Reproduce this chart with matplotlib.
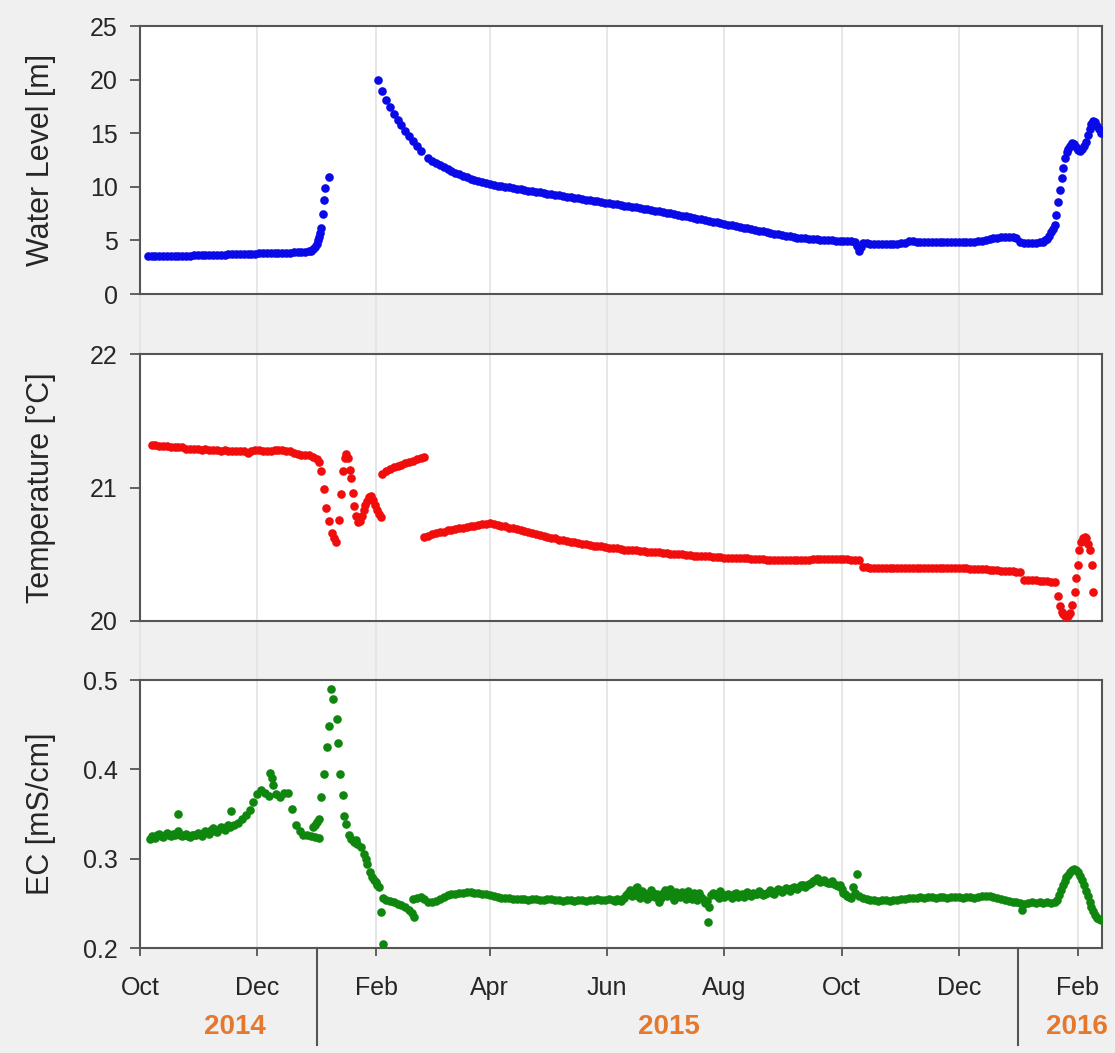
import numpy as np
import matplotlib
matplotlib.use("Agg")
import matplotlib.pyplot as plt
import matplotlib.dates as mdates
import matplotlib.transforms as mtransforms
from matplotlib.lines import Line2D
from matplotlib.ticker import FormatStrFormatter

plt.rcParams['font.family'] = ['Liberation Sans', 'DejaVu Sans']

# ---------------------------------------------------------------------------
# Logger records; times are days since the start of the record (1 Oct 2014)
# ---------------------------------------------------------------------------
START = np.datetime64('2014-10-01T00:00')

# Water level [m]
wl_days = np.concatenate([
    np.arange(4, 89, 2),
    [89, 90, 91, 92, 92.6, 93.2, 93.7, 94.1, 95.0, 95.5, 96.3, 98.4],
    np.arange(124, 147, 2),
    np.arange(150, 371, 2),
    [372, 373, 374, 375, 376],
    np.arange(378, 471, 2),
    [471, 472, 473, 474, 475, 476, 476.6, 477.6, 478.7, 479.6, 480.3, 481.3,
     482.2, 483, 484, 485, 486, 487, 488, 489, 490, 491, 492, 493, 494, 495,
     496, 497, 498, 499, 500],
])
wl_vals = np.array([
    # Oct - Dec 2014
    3.50, 3.51, 3.52, 3.52, 3.53, 3.54, 3.55, 3.55, 3.56, 3.57,
    3.58, 3.59, 3.60, 3.61, 3.62, 3.63, 3.64, 3.65, 3.66, 3.67,
    3.68, 3.69, 3.70, 3.71, 3.72, 3.73, 3.75, 3.76, 3.77, 3.78,
    3.79, 3.80, 3.81, 3.82, 3.83, 3.84, 3.85, 3.86, 3.88, 3.90,
    3.92, 3.95, 4.00,
    # early January rise
    4.05, 4.20, 4.40, 4.70, 5.00, 5.35, 5.70, 6.15, 7.45, 8.75, 9.90, 10.95,
    # February 2015
    20.0, 18.95, 18.10, 17.40, 16.80, 16.25, 15.75, 15.25, 14.75, 14.30,
    13.85, 13.35,
    # March - October 2015
    12.65, 12.43, 12.22, 12.02, 11.83, 11.65, 11.48, 11.32, 11.17, 11.03,
    10.90, 10.77, 10.65, 10.54, 10.43, 10.34, 10.26, 10.19, 10.12, 10.06,
    10.00, 9.94, 9.88, 9.82, 9.76, 9.70, 9.65, 9.59, 9.53, 9.48,
    9.42, 9.37, 9.31, 9.26, 9.20, 9.15, 9.09, 9.04, 8.98, 8.93,
    8.87, 8.81, 8.76, 8.70, 8.65, 8.59, 8.53, 8.48, 8.42, 8.36,
    8.30, 8.25, 8.19, 8.13, 8.07, 8.01, 7.95, 7.89, 7.83, 7.77,
    7.71, 7.65, 7.58, 7.52, 7.45, 7.39, 7.32, 7.25, 7.18, 7.11,
    7.04, 6.97, 6.90, 6.83, 6.76, 6.69, 6.62, 6.55, 6.48, 6.41,
    6.34, 6.27, 6.20, 6.13, 6.06, 5.99, 5.92, 5.85, 5.78, 5.71,
    5.64, 5.57, 5.50, 5.43, 5.37, 5.32, 5.27, 5.23, 5.19, 5.16,
    5.13, 5.10, 5.07, 5.04, 5.02, 5.00, 4.98, 4.96, 4.94, 4.92,
    4.90,
    # October dip
    4.85, 4.50, 4.00, 4.40, 4.72,
    # November 2015 - mid January 2016
    4.72, 4.71, 4.71, 4.70, 4.70, 4.70, 4.70, 4.71, 4.71, 4.72, 4.72,
    4.90, 4.90, 4.89, 4.88, 4.87, 4.86, 4.85, 4.85, 4.84, 4.84,
    4.83, 4.83, 4.82, 4.82, 4.82, 4.83, 4.84, 4.86, 4.90,
    4.95, 5.02, 5.10, 5.18, 5.24, 5.28, 5.30, 5.30, 5.28, 5.25,
    4.85, 4.80, 4.80, 4.80, 4.80, 4.82, 4.85,
    # late January - February 2016
    5.00, 5.15, 5.40, 5.75, 6.10, 6.45, 7.40, 8.60, 9.70, 10.80, 11.80,
    12.70, 13.20, 13.50, 13.80, 14.05, 14.00, 13.70, 13.45, 13.30, 13.50,
    13.85, 14.20, 14.80, 15.40, 15.85, 16.10, 16.00, 15.70, 15.35, 15.00,
])

# Temperature [°C]
tc_days = np.concatenate([
    np.arange(6, 93, 2),
    [93.2, 94.1, 95.5, 96.7, 98.4, 99.8, 101.0, 101.9, 103.6, 104.5, 105.4,
     106.4, 107.3, 108.1, 109.1, 110.0, 110.7, 111.5, 112.4, 113.3, 114.3,
     115.3, 116.3, 117.3, 118.3, 119.3, 120.3, 121.3, 122.3, 123.3, 124.3,
     125.3],
    np.arange(126, 149, 2),
    np.arange(148, 375, 2),
    np.arange(376, 459, 2),
    np.arange(460, 477, 2),
    [477.6, 478.5, 479.5, 480.3, 481, 482, 483, 484, 485, 486.3, 487.1,
     488.0, 488.8, 489.7, 490.6, 491.5, 492.4, 493.3, 494.2, 495.1, 495.9],
])
tc_vals = np.array([
    # Oct - Dec 2014
    21.32, 21.32, 21.31, 21.31, 21.31, 21.30, 21.30, 21.30, 21.30, 21.29,
    21.29, 21.29, 21.29, 21.28, 21.29, 21.28, 21.28, 21.28, 21.27, 21.28,
    21.27, 21.27, 21.27, 21.27, 21.27, 21.26, 21.27, 21.28, 21.28, 21.27,
    21.27, 21.27, 21.28, 21.28, 21.28, 21.27, 21.27, 21.26, 21.25, 21.24,
    21.24, 21.24, 21.23, 21.21,
    # January 2015 oscillation
    21.19, 21.12, 20.99, 20.85, 20.75, 20.66, 20.62, 20.59, 20.76, 20.95,
    21.12, 21.22, 21.25, 21.22, 21.13, 21.07, 20.96, 20.86, 20.79, 20.74,
    20.75, 20.79, 20.83, 20.87, 20.90, 20.93, 20.94, 20.91, 20.87, 20.83,
    20.80, 20.78,
    # February 2015 (upper run)
    21.10, 21.12, 21.14, 21.15, 21.16, 21.17, 21.18, 21.19, 21.20, 21.21,
    21.22, 21.23,
    # late February - mid October 2015
    20.630, 20.640, 20.650, 20.660, 20.665, 20.670, 20.680, 20.685, 20.690, 20.695,
    20.700, 20.705, 20.710, 20.715, 20.720, 20.725, 20.730, 20.735, 20.730, 20.720,
    20.715, 20.710, 20.700, 20.695, 20.690, 20.680, 20.675, 20.670, 20.660, 20.655,
    20.645, 20.640, 20.630, 20.625, 20.620, 20.610, 20.605, 20.600, 20.595, 20.590,
    20.585, 20.580, 20.575, 20.570, 20.565, 20.560, 20.560, 20.555, 20.550, 20.545,
    20.545, 20.540, 20.535, 20.535, 20.530, 20.530, 20.525, 20.525, 20.520, 20.520,
    20.515, 20.515, 20.510, 20.510, 20.505, 20.505, 20.500, 20.500, 20.495, 20.495,
    20.490, 20.490, 20.490, 20.485, 20.485, 20.480, 20.480, 20.480, 20.475, 20.475,
    20.475, 20.470, 20.470, 20.470, 20.470, 20.465, 20.465, 20.465, 20.465, 20.460,
    20.460, 20.460, 20.460, 20.460, 20.460, 20.460, 20.460, 20.460, 20.460, 20.460,
    20.460, 20.465, 20.465, 20.465, 20.465, 20.465, 20.465, 20.465, 20.465, 20.465,
    20.465, 20.460, 20.460, 20.460,
    # mid October - December 2015
    20.405, 20.405, 20.400, 20.400, 20.400, 20.400, 20.400, 20.400, 20.400, 20.400,
    20.400, 20.400, 20.400, 20.400, 20.400, 20.400, 20.400, 20.400, 20.398, 20.398,
    20.398, 20.398, 20.396, 20.396, 20.395, 20.395, 20.395, 20.394, 20.393, 20.392,
    20.390, 20.388, 20.386, 20.384, 20.382, 20.380, 20.378, 20.376, 20.374, 20.372,
    20.370, 20.368,
    # January 2016
    20.310, 20.310, 20.305, 20.305, 20.300, 20.300, 20.300, 20.295, 20.290,
    # late January - February 2016
    20.19, 20.11, 20.07, 20.05, 20.04, 20.035, 20.04, 20.06, 20.12, 20.22,
    20.32, 20.42, 20.53, 20.59, 20.62, 20.63, 20.62, 20.58, 20.53, 20.42,
    20.22,
])

# Electrical conductivity [mS/cm]
ec_days = np.concatenate([
    np.arange(5, 94, 2),
    np.arange(6, 47, 2),
    [19.6, 47.3, 67.6, 68.5],
    [90, 91, 92, 93, 94.1, 95.5, 97.2, 98.4, 99.3, 100.5, 102.4, 103.1, 104.1,
     105.4, 106.2, 107.1, 108.8, 110, 111.4, 112.2, 113, 114.9, 116.6, 117.5,
     118.3, 119.6, 120.9, 121.8, 122.7, 123.5, 124.4, 125.3, 126.2],
    [126.5, 128, 130, 132, 134, 136, 138, 140, 141.5, 142.5],
    np.arange(142, 245, 2),
    np.arange(246, 371, 2),
    np.arange(247, 370, 2),
    [258.5, 295.7, 371.2, 373.0],
    np.arange(372, 477, 2),
    np.arange(477, 501, 1),
    [458.8],
])
ec_vals = np.array([
    # Oct - Dec 2014
    0.322, 0.324, 0.326, 0.325, 0.327, 0.326, 0.328, 0.329, 0.327, 0.326,
    0.325, 0.327, 0.326, 0.328, 0.329, 0.330, 0.332, 0.331, 0.333, 0.334,
    0.335, 0.336, 0.338, 0.340, 0.344, 0.349, 0.355, 0.363, 0.372, 0.377,
    0.373, 0.370, 0.382, 0.372, 0.369, 0.373, 0.374, 0.356, 0.338, 0.331,
    0.327, 0.326, 0.325, 0.324, 0.323,
    # Oct - Nov 2014, intermediate readings
    0.325, 0.323, 0.328, 0.324, 0.329, 0.325, 0.327, 0.331, 0.325, 0.328,
    0.324, 0.326, 0.329, 0.325, 0.331, 0.328, 0.334, 0.330, 0.336, 0.332,
    0.338,
    # isolated high readings
    0.350, 0.353, 0.396, 0.390,
    # January 2015 pulse
    0.335, 0.338, 0.341, 0.344, 0.369, 0.395, 0.425, 0.449, 0.490, 0.479,
    0.456, 0.430, 0.395, 0.371, 0.348, 0.339, 0.326, 0.322, 0.319, 0.321,
    0.316, 0.313, 0.305, 0.300, 0.294, 0.285, 0.279, 0.276, 0.274, 0.271,
    0.268, 0.240, 0.205,
    # February 2015
    0.256, 0.254, 0.253, 0.251, 0.249, 0.248, 0.246, 0.243, 0.239, 0.235,
    # March - May 2015
    0.255, 0.256, 0.257, 0.255, 0.252, 0.251, 0.253, 0.255, 0.257, 0.259,
    0.260, 0.261, 0.262, 0.262, 0.263, 0.263, 0.262, 0.262, 0.261, 0.260,
    0.259, 0.258, 0.257, 0.256, 0.256, 0.256, 0.255, 0.255, 0.255, 0.255,
    0.254, 0.255, 0.255, 0.254, 0.254, 0.255, 0.255, 0.254, 0.254, 0.253,
    0.254, 0.254, 0.253, 0.254, 0.254, 0.253, 0.254, 0.254, 0.255, 0.254,
    0.254, 0.255,
    # June - October 2015
    0.254, 0.255, 0.253, 0.256, 0.262, 0.258, 0.267, 0.256, 0.262, 0.255,
    0.265, 0.257, 0.252, 0.262, 0.258, 0.266, 0.254, 0.260, 0.263, 0.255,
    0.258, 0.262, 0.254, 0.257, 0.250, 0.246, 0.262, 0.258, 0.264, 0.257,
    0.261, 0.256, 0.262, 0.259, 0.257, 0.263, 0.258, 0.260, 0.264, 0.259,
    0.262, 0.265, 0.261, 0.266, 0.263, 0.267, 0.264, 0.268, 0.266, 0.270,
    0.268, 0.272, 0.275, 0.278, 0.274, 0.276, 0.273, 0.275, 0.270, 0.271,
    0.262, 0.258, 0.256,
    # June - October 2015, intermediate readings
    0.253, 0.254, 0.255, 0.259, 0.265, 0.262, 0.258, 0.264, 0.259, 0.257,
    0.262, 0.260, 0.256, 0.265, 0.261, 0.258, 0.263, 0.257, 0.260, 0.264,
    0.255, 0.259, 0.262, 0.255, 0.253, 0.259, 0.260, 0.256, 0.260, 0.259,
    0.258, 0.260, 0.257, 0.261, 0.260, 0.259, 0.262, 0.261, 0.262, 0.260,
    0.263, 0.262, 0.264, 0.265, 0.265, 0.266, 0.267, 0.267, 0.268, 0.270,
    0.271, 0.273, 0.276, 0.277, 0.275, 0.274, 0.273, 0.272, 0.269, 0.266,
    0.260, 0.257,
    # scattered readings
    0.268, 0.229, 0.268, 0.283,
    # mid October 2015 - January 2016
    0.262, 0.258, 0.256, 0.255, 0.254, 0.254, 0.253, 0.254, 0.254, 0.253,
    0.254, 0.254, 0.255, 0.255, 0.256, 0.256, 0.256, 0.257, 0.256, 0.257,
    0.257, 0.256, 0.257, 0.257, 0.256, 0.257, 0.257, 0.257, 0.256, 0.257,
    0.257, 0.256, 0.257, 0.258, 0.258, 0.258, 0.257, 0.256, 0.255, 0.254,
    0.253, 0.252, 0.251, 0.250, 0.249, 0.250, 0.251, 0.250, 0.251, 0.250,
    0.251, 0.250, 0.252,
    # late January - February 2016
    0.254, 0.259, 0.265, 0.270, 0.275, 0.279, 0.282, 0.285, 0.287, 0.288,
    0.287, 0.285, 0.281, 0.276, 0.270, 0.264, 0.258, 0.252, 0.246, 0.241,
    0.237, 0.234, 0.232, 0.231,
    0.242,
])

panels = [
    ("Water Level [m]", wl_days, wl_vals, "#0a0ae8", (0, 25), [0, 5, 10, 15, 20, 25], "%d"),
    ("Temperature [°C]", tc_days, tc_vals, "#f20d0d", (20, 22), [20, 21, 22], "%d"),
    ("EC [mS/cm]", ec_days, ec_vals, "#0f870f", (0.2, 0.5), [0.2, 0.3, 0.4, 0.5], "%.1f"),
]
month_ticks = [2, 4, 6, 8, 10, 12]
year_labels = ["2014", "2015", "2016"]
year_label_days = [49.4, 275.0, 487.5]
year_break_days = [92, 457]
x_end_day = 500.5


def to_dates(days):
    hours = np.round(np.asarray(days, dtype=float) * 24).astype(int)
    return START + hours * np.timedelta64(1, 'h')


BG = "#f0f0f0"
TXT = "#262626"
SPINE = "#555555"
GRID = "#e3e3e3"
W_PX, H_PX = 1115, 1053

fig = plt.figure(figsize=(W_PX / 100, H_PX / 100), dpi=100, facecolor=BG)
boxes = [(26, 294), (354, 621), (680, 948)]
left_px, right_px = 140, 1102

axes = []
for (top, bot) in boxes:
    ax = fig.add_axes([left_px / W_PX, 1 - bot / H_PX,
                       (right_px - left_px) / W_PX, (bot - top) / H_PX])
    axes.append(ax)

x0 = START
x1 = to_dates([x_end_day])[0]
for ax, (label, days, vals, color, ylim, yt, fmt) in zip(axes, panels):
    ax.set_facecolor("white")
    ax.plot(to_dates(days), vals, ls="none", marker="o", ms=6.2, mew=0,
            color=color, zorder=3)
    ax.set_xlim(x0, x1)
    ax.set_ylim(*ylim)
    ax.set_yticks(yt)
    ax.yaxis.set_major_formatter(FormatStrFormatter(fmt))
    ax.xaxis.set_major_locator(mdates.MonthLocator(bymonth=month_ticks))
    ax.xaxis.set_major_formatter(mdates.DateFormatter("%b"))
    ax.grid(axis="x", color=GRID, lw=1.2)
    ax.set_axisbelow(True)
    for sp in ax.spines.values():
        sp.set_color(SPINE)
        sp.set_linewidth(1.5)
    ax.tick_params(axis="y", direction="out", length=7, width=1.3,
                   color=SPINE, pad=9, labelsize=18, labelcolor=TXT)
    ax.set_ylabel(label, fontsize=22, color=TXT)
    ax.yaxis.set_label_coords(-0.087, 0.5)

for ax in axes[:2]:
    ax.tick_params(axis="x", length=0, labelbottom=False)
axes[2].tick_params(axis="x", direction="out", length=6, width=1.3,
                    color=SPINE, pad=14, labelsize=18, labelcolor=TXT)

# grid lines continue through the gaps between the panels
ax3 = axes[2]
blend = mtransforms.blended_transform_factory(ax3.transData, fig.transFigure)
y_low, y_high = 1 - boxes[2][1] / H_PX, 1 - boxes[0][0] / H_PX
for t in ax3.get_xticks():
    fig.add_artist(Line2D([t, t], [y_low, y_high], transform=blend,
                          color=GRID, lw=1.2, zorder=-5))

# year separators and year labels below the month axis
for d in year_break_days:
    xd = mdates.date2num(to_dates([d])[0])
    fig.add_artist(Line2D([xd, xd], [y_low, 1 - 1045 / H_PX], transform=blend,
                          color=SPINE, lw=1.5, zorder=5))
for txt, d in zip(year_labels, year_label_days):
    xd = mdates.date2num(to_dates([d])[0])
    ax3.text(xd, 1 - 1027 / H_PX, txt, transform=blend, ha="center",
             va="center", fontsize=20, fontweight="bold", color="#e5782c")

fig.savefig("out.png", dpi=100, facecolor=BG)
